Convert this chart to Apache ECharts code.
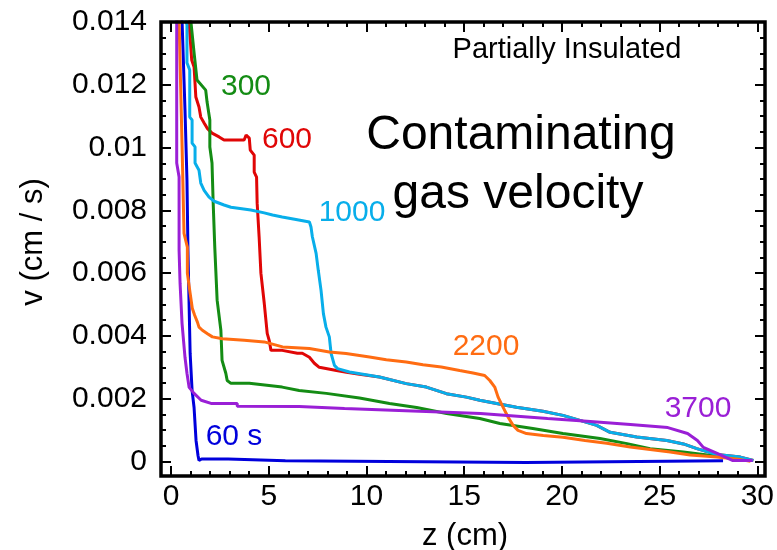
<!DOCTYPE html>
<html><head><meta charset="utf-8">
<script src="https://cdn.jsdelivr.net/npm/echarts@6/dist/echarts.min.js"></script>
<style>html,body{margin:0;padding:0;background:#fff}#c{width:777px;height:550px}</style>
</head><body><div id="c"></div>
<script>
// ---- data (z in cm, v in cm/s) ----
const xTicks = [0, 5, 10, 15, 20, 25, 30];
const yTicks = [0, 0.002, 0.004, 0.006, 0.008, 0.01, 0.012, 0.014];

const z60 = [0.56,0.56,0.71,0.81,0.86,0.97,1.07,1.17,1.27,1.37,1.42,1.55,1.9,1.95,2.0,2.9,2.95,5.8,5.85,18.0,18.05,28.0];
const v60 = [0.0145,0.01407,0.0112,0.00896,0.00673,0.00345,0.00226,0.00172,0.00067,0.00019,0.00003,0.00008,0.00008,0.00003,0.00008,0.00008,0.00002,0.00002,-0.00003,-0.00003,0.00002,0.00002];

const z300 = [1.0,1.0,1.17,1.32,1.76,1.83,1.97,1.97,2.08,2.14,2.22,2.34,2.53,2.59,2.78,2.85,3.04,3.97,5.64,6.5,7.88,9.56,11.08,12.46,13.98,15.66,16.68,18.35,19.88,21.76,23.13,24.3,25.98,27.2,28.2,29.39];
const v300 = [0.0145,0.01407,0.01302,0.01215,0.01183,0.01145,0.01088,0.01002,0.00951,0.00823,0.00683,0.00514,0.00418,0.00322,0.00281,0.00258,0.00249,0.00249,0.00237,0.00226,0.00217,0.00202,0.00185,0.00172,0.00153,0.00137,0.00121,0.00105,0.00089,0.00073,0.00057,0.00041,0.0003,0.00021,0.00014,0.00003];

const z600 = [0.92,0.92,0.95,1.05,1.17,1.26,1.42,1.51,1.68,1.83,2.08,2.44,2.69,3.71,3.81,3.97,4.02,4.22,4.22,4.34,4.37,4.47,4.56,4.73,4.88,4.98,5.07,5.64,6.41,6.66,7.02,7.27,7.52,8.39,8.9,9.56,10.57,11.93,12.95,13.97,14.98,15.66,16.51,17.52,18.86,19.88,20.57,21.59,22.27,23.62,25.15,25.99,26.67,27.69,28.88,29.54];
const v600 = [0.0145,0.01407,0.01369,0.01279,0.01257,0.01161,0.01129,0.01097,0.01078,0.01062,0.01046,0.01034,0.01024,0.01024,0.0104,0.0103,0.00992,0.00976,0.00922,0.00906,0.00823,0.00715,0.006,0.00504,0.00408,0.00386,0.00354,0.00354,0.00345,0.00345,0.00332,0.00313,0.003,0.0029,0.00284,0.00278,0.00269,0.00248,0.00237,0.00216,0.00205,0.00195,0.00185,0.00173,0.0016,0.00147,0.00134,0.00115,0.00093,0.00078,0.00067,0.00056,0.00041,0.00022,0.00014,0.00003];

const z1000 = [0.75,0.75,0.81,0.81,0.95,0.95,1.07,1.07,1.22,1.22,1.42,1.51,1.68,1.93,2.19,2.69,3.04,4.05,4.73,5.15,5.64,6.34,7.02,7.1,7.17,7.36,7.47,7.61,7.73,7.86,8.03,8.12,8.29,8.45,9.05,10.57,11.93,12.95,13.97,14.98,15.66,16.51,17.52,18.86,19.88,20.57,21.59,22.27,23.62,25.15,25.99,26.67,27.69,28.88,29.54];
const v1000 = [0.0145,0.01407,0.01391,0.0127,0.01247,0.01097,0.01088,0.01014,0.01002,0.00951,0.00928,0.00887,0.00864,0.00842,0.00829,0.00817,0.0081,0.00801,0.00792,0.00785,0.00779,0.00771,0.00763,0.00747,0.00716,0.00663,0.00609,0.00545,0.00471,0.00428,0.00397,0.00344,0.00306,0.00296,0.00285,0.00269,0.00248,0.00237,0.00216,0.00205,0.00195,0.00185,0.00173,0.0016,0.00147,0.00134,0.00115,0.00093,0.00078,0.00067,0.00056,0.00041,0.00022,0.00014,0.00003];

const z2200 = [0.41,0.41,0.49,0.57,0.66,0.83,0.83,0.97,1.08,1.2,1.34,1.42,1.59,1.85,2.1,2.61,3.71,4.73,5.66,7.02,8.03,8.88,10.07,10.92,11.93,12.78,13.71,14.64,15.32,15.91,16.17,16.42,16.59,16.84,17.1,17.35,17.6,18.03,18.88,19.88,21.0,22.1,23.29,24.3,25.32,26.33,27.69,28.88,29.39];
const v2200 = [0.0145,0.01407,0.01193,0.00983,0.00727,0.00683,0.006,0.00536,0.00488,0.00466,0.00444,0.00428,0.00418,0.00407,0.00397,0.00391,0.00386,0.00381,0.00365,0.0036,0.00349,0.00344,0.00333,0.00324,0.00317,0.00308,0.00301,0.0029,0.00282,0.00274,0.00258,0.00237,0.00205,0.00173,0.00141,0.00115,0.00099,0.00089,0.00083,0.00077,0.00067,0.00058,0.00046,0.00038,0.0003,0.00021,0.00014,0.00006,0.00001];

const z3700 = [0.29,0.29,0.29,0.41,0.41,0.46,0.56,0.71,0.81,0.92,1.17,1.53,2.03,3.36,3.36,6.5,8.8,12.6,15.7,19.1,21.1,23.3,25.2,26.2,26.7,27.0,27.7,28.5,29.5];
const v3700 = [0.0145,0.01407,0.00951,0.00906,0.00673,0.00568,0.0044,0.00332,0.00281,0.00236,0.00217,0.00195,0.00185,0.00185,0.00176,0.00175,0.00169,0.0016,0.00153,0.00137,0.00128,0.00118,0.00108,0.00089,0.00067,0.00045,0.00026,0.00003,0.00003];

const seriesNames = ['60 s','300','600','1000','2200','3700'];
const seriesColors = ['#0000dc','#148c14','#e00606','#08aeea','#ff6c12','#9a1fd6'];

// ---- chart ----
const zip = (a, b) => a.map((x, i) => [x, b[i]]);
const sets = [[z60,v60],[z600,v600],[z300,v300],[z1000,v1000],[z2200,v2200],[z3700,v3700]];
const setIdx = [0,2,1,3,4,5];
const FONT = 'Liberation Sans, Arial, sans-serif';

const chart = echarts.init(document.getElementById('c'), null, {renderer:'canvas'});
const tickStyle = {inside:true, length:10, lineStyle:{color:'#000', width:2}};
const minorStyle = (n) => ({show:true, splitNumber:n, length:5, lineStyle:{color:'#000', width:2}});
const fmtY = v => String(parseFloat(v.toFixed(3)));

chart.setOption({
  animation:false,
  backgroundColor:'#fff',
  grid:[
    {left:161, right:12, top:22, bottom:74, show:true, borderColor:'#000', borderWidth:3.5, backgroundColor:'transparent', z:5},
    {left:171, right:14.5, top:22, bottom:74},
    {left:161, right:12, top:22, bottom:88.5}
  ],
  xAxis:[
    {gridIndex:0, type:'value', min:-0.507, max:30.127, show:false},
    {gridIndex:1, type:'value', min:xTicks[0], max:xTicks[xTicks.length-1], interval:5, position:'bottom',
      axisLine:{show:false}, splitLine:{show:false}, axisTick:tickStyle, minorTick:minorStyle(5),
      axisLabel:{color:'#000', fontSize:30, fontFamily:FONT, margin:6}},
    {gridIndex:1, type:'value', min:xTicks[0], max:xTicks[xTicks.length-1], interval:5, position:'top',
      axisLine:{show:false}, splitLine:{show:false}, axisTick:tickStyle, minorTick:minorStyle(5),
      axisLabel:{show:false}},
    {gridIndex:2, type:'value', min:0, max:1, show:false}
  ],
  yAxis:[
    {gridIndex:0, type:'value', min:-0.000462, max:0.014, show:false},
    {gridIndex:1, type:'value', min:0, max:1, show:false},
    {gridIndex:2, type:'value', min:yTicks[0], max:yTicks[yTicks.length-1], interval:0.002, position:'left',
      axisLine:{show:false}, splitLine:{show:false}, axisTick:tickStyle, minorTick:minorStyle(4),
      axisLabel:{color:'#000', fontSize:30, fontFamily:FONT, margin:14, formatter:fmtY}},
    {gridIndex:2, type:'value', min:yTicks[0], max:yTicks[yTicks.length-1], interval:0.002, position:'right',
      axisLine:{show:false}, splitLine:{show:false}, axisTick:tickStyle, minorTick:minorStyle(4),
      axisLabel:{show:false}}
  ],
  series: sets.map((s, k) => ({
    type:'line', name:seriesNames[setIdx[k]], xAxisIndex:0, yAxisIndex:0,
    data:zip(s[0], s[1]), showSymbol:false, symbol:'none', clip:true,
    lineStyle:{color:seriesColors[setIdx[k]], width:3}, z:2
  })),
  graphic:[
    {type:'text', x:33, y:242, rotation:Math.PI/2, style:{text:'v (cm / s)', font:'31px '+FONT, fill:'#000', textAlign:'center', textVerticalAlign:'middle'}},
    {type:'text', x:465, y:536, style:{text:'z (cm)', font:'31px '+FONT, fill:'#000', textAlign:'center', textVerticalAlign:'middle'}},
    {type:'text', x:567, y:50, style:{text:'Partially Insulated', font:'29px '+FONT, fill:'#000', textAlign:'center', textVerticalAlign:'middle'}},
    {type:'text', x:521, y:136, style:{text:'Contaminating', font:'48px '+FONT, fill:'#000', textAlign:'center', textVerticalAlign:'middle'}},
    {type:'text', x:518, y:195, style:{text:'gas velocity', font:'48px '+FONT, fill:'#000', textAlign:'center', textVerticalAlign:'middle'}},
    {type:'text', x:246, y:87, style:{text:'300', font:'30px '+FONT, fill:seriesColors[1], textAlign:'center', textVerticalAlign:'middle'}},
    {type:'text', x:287, y:140, style:{text:'600', font:'30px '+FONT, fill:seriesColors[2], textAlign:'center', textVerticalAlign:'middle'}},
    {type:'text', x:352, y:213, style:{text:'1000', font:'30px '+FONT, fill:seriesColors[3], textAlign:'center', textVerticalAlign:'middle'}},
    {type:'text', x:486, y:347, style:{text:'2200', font:'30px '+FONT, fill:seriesColors[4], textAlign:'center', textVerticalAlign:'middle'}},
    {type:'text', x:698, y:409, style:{text:'3700', font:'30px '+FONT, fill:seriesColors[5], textAlign:'center', textVerticalAlign:'middle'}},
    {type:'text', x:234, y:437, style:{text:'60 s', font:'30px '+FONT, fill:seriesColors[0], textAlign:'center', textVerticalAlign:'middle'}}
  ]
});
</script></body></html>
